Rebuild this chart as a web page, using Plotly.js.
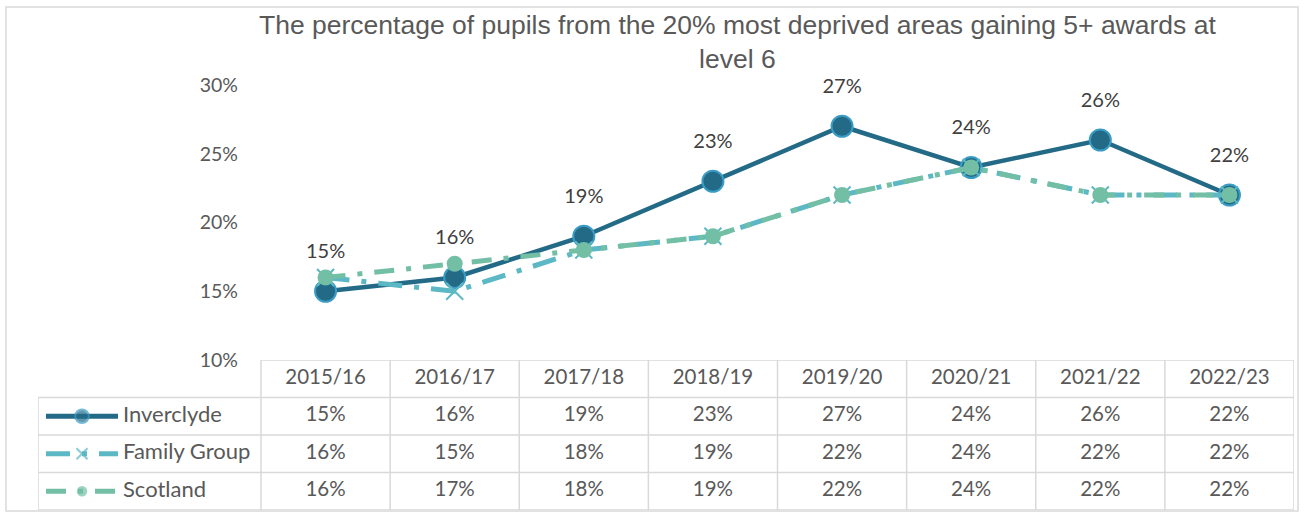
<!DOCTYPE html>
<html>
<head>
<meta charset="utf-8">
<script src="https://cdn.plot.ly/plotly-3.0.1.min.js"></script>
<style>html,body{margin:0;padding:0;background:#fff;}#chart{width:1306px;height:513px;}</style>
</head>
<body>
<div id="chart"></div>
<script>
const categories = ["2015/16","2016/17","2017/18","2018/19","2019/20","2020/21","2021/22","2022/23"];
const inverclyde = [15,16,19,23,27,24,26,22];
const familyGroup = [16,15,18,19,22,24,22,22];
const scotland = [16,17,18,19,22,24,22,22];
const seriesNames = ["Inverclyde","Family Group","Scotland"];
const yTicks = [10,15,20,25,30];
const titleText = "The percentage of pupils from the 20% most deprived areas gaining 5+ awards at<br>level 6";

const W = 1306, H = 513;
const px2x = p => p / W;
const py2y = p => 1 - p / H;

const cInv = "#236a87", cInvEdge = "#3a9cc4", cFam = "#5bb8c4", cSco = "#72bfa6";
const gridC = "#d9d9d9", txtC = "#595959";
const tableFont = {family: "Lato, 'Open Sans', sans-serif", size: 20.5, color: txtC};
const legendFont = {family: "Lato, 'Open Sans', sans-serif", size: 22, color: txtC};

const idx = categories.map((c, i) => i);
const series = [
  {name: seriesNames[0], y: inverclyde, color: cInv, dash: "solid",
   marker: {symbol: "circle", size: 21, color: cInv, line: {color: cInvEdge, width: 2}}},
  {name: seriesNames[1], y: familyGroup, color: cFam, dash: "24px,12px,5px,12px",
   marker: {symbol: "x-thin", size: 17, color: cFam, line: {color: cFam, width: 2}}},
  {name: seriesNames[2], y: scotland, color: cSco, dash: "20px,12px,5px,12px",
   marker: {symbol: "circle", size: 16, color: cSco, line: {width: 0}}}
];

const traces = [];
series.forEach((s, k) => {
  traces.push({
    type: "scatter", x: idx, y: s.y, xaxis: "x", yaxis: "y",
    mode: "lines+markers",
    line: {color: s.color, width: k === 0 ? 4.5 : 5, dash: s.dash},
    marker: s.marker, showlegend: false, hoverinfo: "skip", cliponaxis: false
  });
});
// data labels for Inverclyde (invisible large marker sets the offset)
traces.push({
  type: "scatter", x: idx, y: inverclyde, xaxis: "x", yaxis: "y",
  mode: "markers+text", text: inverclyde.map(v => v + "%"), textposition: "top center",
  textfont: {family: "Lato, sans-serif", size: 20, color: "#404040"},
  marker: {size: 44, color: "rgba(0,0,0,0)", line: {width: 0}},
  showlegend: false, hoverinfo: "skip", cliponaxis: false
});

// Table: x2 coordinates
const colW = 129.125;
const legLeft = -0.5 - (261 - 38) / colW;
const toX2 = p => -0.5 + (p - 261) / colW;

// header
traces.push({type: "scatter", mode: "text", x: idx, y: idx.map(() => 0), text: categories,
  xaxis: "x2", yaxis: "y2", textfont: tableFont, showlegend: false, hoverinfo: "skip"});
// values
series.forEach((s, k) => {
  traces.push({type: "scatter", mode: "text", x: idx, y: idx.map(() => k + 1),
    text: s.y.map(v => v + "%"), xaxis: "x2", yaxis: "y2", textfont: tableFont,
    showlegend: false, hoverinfo: "skip"});
  // legend key
  traces.push({type: "scatter", mode: "lines+markers",
    x: [toX2(46), toX2(82), toX2(118)], y: [k + 1, k + 1, k + 1],
    xaxis: "x2", yaxis: "y2",
    line: {color: s.color, width: 5, dash: s.dash},
    marker: Object.assign({}, s.marker, {size: [0, s.marker.size * 0.65, 0]}),
    showlegend: false, hoverinfo: "skip", cliponaxis: false});
  traces.push({type: "scatter", mode: "text", x: [toX2(123)], y: [k + 1],
    text: [s.name], textposition: "middle right", xaxis: "x2", yaxis: "y2",
    textfont: legendFont, showlegend: false, hoverinfo: "skip", cliponaxis: false});
});

const shapes = [];
const ln = (x0, y0, x1, y1) => shapes.push({type: "line", xref: "x2", yref: "y2",
  x0, y0, x1, y1, line: {color: gridC, width: 1.5}, layer: "below"});
ln(-0.5, -0.5, 7.5, -0.5);
[0.5, 1.5, 2.5, 3.5].forEach(y => ln(legLeft, y, 7.5, y));
ln(legLeft, 0.5, legLeft, 3.5);
for (let i = 0; i <= categories.length; i++) ln(i - 0.5, -0.5, i - 0.5, 3.5);
// outer chart border
shapes.push({type: "rect", xref: "paper", yref: "paper",
  x0: px2x(6), x1: px2x(1298), y0: py2y(511), y1: py2y(7),
  line: {color: gridC, width: 1.5}, layer: "below"});

const layout = {
  width: W, height: H,
  margin: {l: 0, r: 0, t: 0, b: 0},
  paper_bgcolor: "#fff", plot_bgcolor: "rgba(0,0,0,0)",
  showlegend: false,
  annotations: [{text: titleText, xref: "paper", yref: "paper",
    x: px2x(737), xanchor: "center", y: py2y(42), yanchor: "middle", showarrow: false,
    font: {family: "'Liberation Sans', Arial, sans-serif", size: 26.5, color: txtC}}],
  xaxis: {domain: [px2x(261), px2x(1294)], range: [-0.5, 7.5], visible: false, fixedrange: true},
  yaxis: {domain: [py2y(360), py2y(85)], range: [10, 30], tickvals: yTicks,
    ticktext: yTicks.map(v => v + "%"), showgrid: false, zeroline: false, showline: false,
    ticks: "", ticklabelstandoff: 22,
    tickfont: {family: "Lato, sans-serif", size: 19.5, color: txtC}},
  xaxis2: {domain: [px2x(38), px2x(1294)], range: [legLeft, 7.5], visible: false, anchor: "y2"},
  yaxis2: {domain: [py2y(510), py2y(360)], range: [3.5, -0.5], visible: false, anchor: "x2"},
  shapes
};

Plotly.newPlot("chart", traces, layout, {staticPlot: true, displayModeBar: false});
</script>
</body>
</html>
